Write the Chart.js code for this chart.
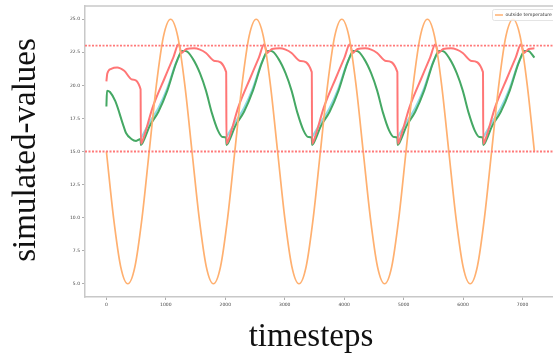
<!DOCTYPE html>
<html>
<head>
<meta charset="utf-8">
<script src="https://cdn.jsdelivr.net/npm/chart.js@4.4.0/dist/chart.umd.min.js"></script>
<style>
  body { margin: 0; background: #fff; overflow: hidden; }
  .wrap { position: relative; width: 557px; height: 356px; }
</style>
</head>
<body>
<div class="wrap"><canvas id="chart"></canvas></div>
<script>
// outside temperature, read every 120 timesteps
const outsideSteps = [0,120,240,360,480,600,720,840,960,1080,1200,1320,
  1440,1560,1680,1800,1920,2040,2160,2280,2400,2520,2640,2760,
  2880,3000,3120,3240,3360,3480,3600,3720,3840,3960,4080,4200,
  4320,4440,4560,4680,4800,4920,5040,5160,5280,5400,5520,5640,
  5760,5880,6000,6120,6240,6360,6480,6600,6720,6840,6960,7080,7200];
const outsideTemp = [15,10,6.3,5,6.3,10,15,20,23.7,25,23.7,20,
  15,10,6.3,5,6.3,10,15,20,23.7,25,23.7,20,
  15,10,6.3,5,6.3,10,15,20,23.7,25,23.7,20,
  15,10,6.3,5,6.3,10,15,20,23.7,25,23.7,20,
  15,10,6.3,5,6.3,10,15,20,23.7,25,23.7,20,15];

// red series
const redSteps = [0,15,80,180,300,430,575,
  580,615,775,825,975,1125,1215,1265,1345,1475,1575,1675,1825,2015,
  2020,2055,2215,2265,2415,2565,2655,2705,2785,2915,3015,3115,3265,3455,
  3460,3495,3655,3705,3855,4005,4095,4145,4225,4355,4455,4555,4705,4895,
  4900,4935,5095,5145,5295,5445,5535,5585,5665,5795,5895,5995,6145,6335,
  6340,6375,6535,6585,6735,6885,6975,7025,7105,7200];
const redValues = [20.3,20.9,21.25,21.35,21.1,20.45,19.7,
  15.6,15.9,18.3,18.9,20.5,22.1,23.1,22.45,22.75,22.8,22.7,22.45,21.85,21.0,
  15.6,15.9,18.3,18.9,20.5,22.1,23.1,22.45,22.75,22.8,22.7,22.45,21.85,21.0,
  15.6,15.9,18.3,18.9,20.5,22.1,23.1,22.45,22.75,22.8,22.7,22.45,21.85,21.0,
  15.6,15.9,18.3,18.9,20.5,22.1,23.1,22.45,22.75,22.8,22.7,22.45,21.85,21.0,
  15.6,15.9,18.3,18.9,20.5,22.1,23.1,22.45,22.75,22.8];

// green series
const greenSteps = [0,10,60,150,290,330,420,500,575,
  580,635,725,875,1025,1175,1275,1335,1455,1575,1675,1775,1875,1955,2015,
  2020,2075,2165,2315,2465,2615,2715,2775,2895,3015,3115,3215,3315,3395,3455,
  3460,3515,3605,3755,3905,4055,4155,4215,4335,4455,4555,4655,4755,4835,4895,
  4900,4955,5045,5195,5345,5495,5595,5655,5775,5895,5995,6095,6195,6275,6335,
  6340,6395,6485,6635,6785,6935,7035,7095,7200];
const greenValues = [18.4,19.6,19.5,18.8,16.9,16.4,15.95,15.8,15.95,
  15.5,15.9,16.9,18.0,19.6,21.7,22.6,22.6,22.0,20.9,19.6,17.9,16.6,16.1,16.05,
  15.5,15.9,16.9,18.0,19.6,21.7,22.6,22.6,22.0,20.9,19.6,17.9,16.6,16.1,16.05,
  15.5,15.9,16.9,18.0,19.6,21.7,22.6,22.6,22.0,20.9,19.6,17.9,16.6,16.1,16.05,
  15.5,15.9,16.9,18.0,19.6,21.7,22.6,22.6,22.0,20.9,19.6,17.9,16.6,16.1,16.05,
  15.5,15.9,16.9,18.0,19.6,21.7,22.6,22.6,22.1];

// cyan series (rising parts only, null = gap)
const cyanSteps = [575,725,875,1025,1175,1275,1300,
  2015,2165,2315,2465,2615,2715,2740,
  3455,3605,3755,3905,4055,4155,4180,
  4895,5045,5195,5345,5495,5595,5620,
  6335,6485,6635,6785,6935,7035];
const cyanValues = [15.95,17.2,18.3,19.8,21.75,22.6,null,
  16.05,17.2,18.3,19.8,21.75,22.6,null,
  16.05,17.2,18.3,19.8,21.75,22.6,null,
  16.05,17.2,18.3,19.8,21.75,22.6,null,
  16.05,17.2,18.3,19.8,21.75,22.6];

const limits = [23, 15];
const xRange = [-360, 7580];
const yRange = [4, 26];
const xTicks = [0,1000,2000,3000,4000,5000,6000,7000];
const yTicks = [5,7.5,10,12.5,15,17.5,20,22.5,25];

const toPoints = (xs, ys) => xs.map((x, i) => ({ x: x, y: ys[i] }));

const lineBase = { pointRadius: 0, borderWidth: 2, fill: false, cubicInterpolationMode: 'monotone' };

const datasets = [
  { ...lineBase, label: 'outside temperature', data: toPoints(outsideSteps, outsideTemp),
    borderColor: '#ffb070', borderWidth: 1.7, order: 1 },
  { ...lineBase, label: 'red', data: toPoints(redSteps, redValues),
    borderColor: '#ff7676', order: 2 },
  { ...lineBase, label: 'green', data: toPoints(greenSteps, greenValues),
    borderColor: '#45a864', order: 3 },
  { ...lineBase, label: 'cyan', data: toPoints(cyanSteps, cyanValues),
    borderColor: '#8edbe6', order: 4, spanGaps: false },
];
limits.forEach(v => {
  datasets.push({ label: 'limit', data: [{ x: xRange[0], y: v }, { x: xRange[1], y: v }],
    borderColor: '#ff7a7a', borderWidth: 1.8, borderDash: [2, 1.5], pointRadius: 0, order: 0 });
});

const decor = {
  id: 'decor',
  afterDraw(chart) {
    const ctx = chart.ctx;
    const a = chart.chartArea;
    ctx.save();
    // top spine
    ctx.strokeStyle = '#c8c8c8';
    ctx.lineWidth = 1.5;
    ctx.beginPath();
    ctx.moveTo(a.left, a.top);
    ctx.lineTo(a.right, a.top);
    ctx.stroke();

    // legend
    ctx.fillStyle = 'rgba(255,255,255,0.85)';
    ctx.strokeStyle = '#dddddd';
    ctx.lineWidth = 0.8;
    ctx.beginPath();
    ctx.roundRect(492.5, 9.5, 70, 11, 2);
    ctx.fill();
    ctx.stroke();
    ctx.strokeStyle = '#ffb070';
    ctx.lineWidth = 1.5;
    ctx.beginPath();
    ctx.moveTo(495, 15);
    ctx.lineTo(503, 15);
    ctx.stroke();
    ctx.fillStyle = '#333';
    ctx.font = '4.5px "DejaVu Sans"';
    ctx.textBaseline = 'middle';
    ctx.textAlign = 'left';
    ctx.fillText('outside temperature', 505.5, 15);

    // axis titles
    ctx.fillStyle = '#111';
    ctx.font = '33px "Liberation Serif"';
    ctx.textAlign = 'center';
    ctx.textBaseline = 'alphabetic';
    ctx.fillText('timesteps', 311, 346);
    ctx.translate(35, 150);
    ctx.rotate(-Math.PI / 2);
    ctx.fillText('simulated-values', 0, 0);
    ctx.restore();
  }
};

const tickFont = { family: 'DejaVu Sans', size: 4.5 };

new Chart(document.getElementById('chart'), {
  type: 'line',
  data: { datasets: datasets },
  options: {
    responsive: true,
    maintainAspectRatio: false,
    animation: false,
    layout: { padding: { top: 6, right: 0, left: 0, bottom: 0 } },
    plugins: { legend: { display: false }, tooltip: { enabled: false } },
    scales: {
      x: {
        type: 'linear',
        min: xRange[0],
        max: xRange[1],
        afterBuildTicks: (scale) => { scale.ticks = xTicks.map(v => ({ value: v })); },
        afterFit: (scale) => { scale.height = 59; },
        ticks: { font: tickFont, color: '#444', padding: 2, maxRotation: 0, callback: (v) => String(v) },
        grid: { display: true, drawOnChartArea: false, drawTicks: true, tickLength: 3, color: '#777', lineWidth: 0.6 },
        border: { display: true, color: '#c8c8c8', width: 1.5 }
      },
      y: {
        min: yRange[0],
        max: yRange[1],
        afterBuildTicks: (scale) => { scale.ticks = yTicks.map(v => ({ value: v })); },
        afterFit: (scale) => { scale.width = 85; },
        ticks: { font: tickFont, color: '#444', padding: 2, callback: (v) => v.toFixed(1) },
        grid: { display: true, drawOnChartArea: false, drawTicks: true, tickLength: 3, color: '#777', lineWidth: 0.6 },
        border: { display: true, color: '#c8c8c8', width: 1.5 }
      }
    }
  },
  plugins: [decor]
});
</script>
</body>
</html>
